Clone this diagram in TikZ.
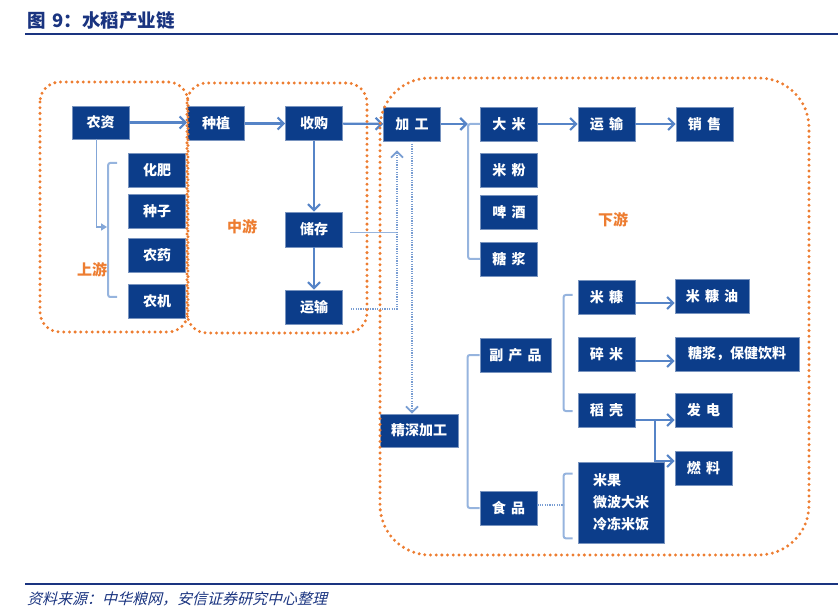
\documentclass[tikz,border=0pt]{standalone}
\usepackage{fontspec}
\newfontfamily\cjk{Noto Sans CJK SC}[WordSpace=1.6]
\newfontfamily\cjkit{Noto Sans CJK SC}[FakeSlant=0.25]
\usepackage{xcolor}
\usetikzlibrary{arrows.meta}
\definecolor{boxblue}{RGB}{12,61,138}
\definecolor{lineblue}{RGB}{86,132,199}
\definecolor{brkblue}{RGB}{150,180,222}
\definecolor{dotorange}{RGB}{237,125,49}
\definecolor{titleblue}{RGB}{26,52,128}

\begin{document}
\begin{tikzpicture}[x=1pt, y=-1pt,
  box/.style={fill=boxblue, draw=boxblue!55!white, line width=0.6pt, text=white,
    font=\cjk\bfseries\fontsize{14}{16}\selectfont,
    minimum width=57pt, minimum height=34pt, inner sep=0pt},
  region/.style={draw=dotorange, line width=3.3pt, line cap=round,
    dash pattern=on 0pt off 5.7pt, rounded corners=#1},
  region/.default=20pt,
  lbl/.style={text=dotorange, font=\cjk\bfseries\fontsize{15}{17}\selectfont},
  arr/.style={draw=lineblue, line width=2.2pt, -{Straight Barb[length=6pt,width=12pt]}},
  arrsmall/.style={draw=brkblue!70!lineblue, line width=1.8pt, -{Triangle[length=6pt,width=7pt]}},
  brk/.style={draw=brkblue, line width=2pt, rounded corners=2pt},
  thinl/.style={draw=brkblue, line width=0.9pt},
  dotl/.style={draw=lineblue!80!white, line width=1.5pt, dash pattern=on 1.2pt off 1.2pt},
  dotarr/.style={dotl, -{Straight Barb[length=6pt,width=12pt,line width=1.8pt]}}]
  \useasboundingbox (0,0) rectangle (838,612);

  % title and source
  \node[anchor=west, inner sep=0pt, text=titleblue, font=\cjk\bfseries\fontsize{18.5}{20}\selectfont] (title) at (27,21) {图 9：水稻产业链};
  \draw[titleblue, line width=2pt] (25,34.5) -- (838,34.5);
  \draw[titleblue, line width=1.2pt] (25,584) -- (838,584);
  \node[anchor=west, inner sep=0pt, text=titleblue, font=\cjkit\fontsize{15}{17}\selectfont] (src) at (27,598.5) {资料来源：中华粮网，安信证券研究中心整理};

  % upstream
  \node[box, minimum height=33pt] (nz) at (100.5,122.5) {农资};
  \foreach \t/\y [count=\i] in {化肥/170, 种子/211, 农药/255, 农机/301}
    \node[box] (s\i) at (157,\y) {\t};

  % midstream
  \node[box] (zz) at (216,123.5) {种植};
  \node[box] (sg) at (314,123.5) {收购};
  \node[box, minimum height=35pt] (cc) at (314,229.5) {储存};
  \node[box] (ys1) at (314,307) {运输};

  % downstream
  \node[box] (jg) at (412,124) {加 工};
  \node[box] (dm) at (509,124) {大 米};
  \node[box] (ys2) at (606.5,124) {运 输};
  \node[box] (xs) at (704.5,124) {销 售};
  \foreach \t/\y/\n in {米 粉/170/mf, 啤 酒/212/pj, 糖 浆/259/tj}
    \node[box] (\n) at (509,\y) {\t};
  \node[box, minimum width=78pt, minimum height=33pt] (sj) at (419,430.5) {精深加工};
  \node[box, minimum width=71pt] (fc) at (515.5,355) {副 产 品};
  \node[box] (sp) at (508.5,508) {食 品};
  \node[box] (mk) at (606.5,297) {米 糠};
  \node[box] (sm) at (606.5,354) {碎 米};
  \node[box] (dk) at (606.5,410) {稻 壳};
  \node[box, minimum width=74pt] (mky) at (712,296) {米 糠 油};
  \node[box, minimum width=124pt] (bj) at (737,354) {糖浆，保健饮料};
  \node[box] (fd) at (703.5,410) {发 电};
  \node[box] (rl) at (703.5,468) {燃 料};
  \node[box, minimum width=86pt, minimum height=81pt, align=left,
    font=\cjk\bfseries\fontsize{14}{22}\selectfont] (mg) at (621,502.5) {米果\\微波大米\\冷冻米饭};

  % main chain
  \draw[arr] (nz.east) -- (nz.east -| zz.west);
  \draw[arr] (zz) -- (sg);
  \draw[arr] (sg) -- (jg);
  \draw[arr] (dm) -- (ys2);
  \draw[arr] (ys2) -- (xs);
  \draw[arr] (sg) -- (cc);
  \draw[arr] (cc) -- (ys1);
  \draw[arr] (jg.east) -- ++(27,0);
  \draw[brk] (dm.west) -- ++(-12,0) |- (tj.west);

  % inputs bracket
  \coordinate (lb) at (107,227);
  \draw[brk] ([shift={(-11,-7)}]s1.west) -- ++(-9,0) |- ([shift={(-11,-4)}]s4.west);
  \draw[arrsmall] ([xshift=-4pt]nz.south) |- (lb);

  % storage and transport back to processing
  \coordinate (up) at ([shift={(-15,9)}]jg.south);
  \coordinate (c1) at ([shift={(7,3)}]cc.east);
  \coordinate (y1) at ([shift={(8,2)}]ys1.east);
  \draw[thinl] (c1) -- (c1 -| up);
  \draw[dotarr] (y1) -| (up);
  \draw[dotarr] (jg.south) -- (jg.south |- sj.north);

  % by-products and food
  \draw[brk] (fc.west) -- ++(-12,0) |- (sp.west);
  \draw[brk] ([shift={(-5,-2)}]mk.west) -- ++(-9,0) |- ([shift={(-5,1)}]dk.west);
  \coordinate (m1) at ([shift={(0,6)}]mk.east);
  \coordinate (m2) at ([shift={(0,7)}]sm.east);
  \coordinate (m3) at ([shift={(0,10)}]dk.east);
  \coordinate (m4) at ([shift={(20,10)}]dk.east);
  \draw[arr] (m1) -- (m1 -| mky.west);
  \draw[arr] (m2) -- (m2 -| bj.west);
  \draw[arr] (m3) -- (m3 -| fd.west);
  \draw[arr] (m4) |- ([shift={(0,-7)}]rl.west);
  \draw[brk] ([shift={(-5,12)}]mg.north west) -- ++(-9,0) |- ([shift={(-5,-5)}]mg.south west);
  \coordinate (mb) at ([shift={(-14,0)}]mg.west);
  \coordinate (s5) at ([shift={(0,-3)}]sp.east);
  \draw[dotl] (s5) -- (s5 -| mb);

  % stages
  \draw[region] (40,82) rectangle (188,332);
  \draw[region] (187,83) rectangle (367,333);
  \draw[region=50pt] (380,78) rectangle (809,555);
  \node[lbl] (upl) at (92,270) {上游};
  \node[lbl] (midl) at (242,227) {中游};
  \node[lbl] (downl) at (613,220) {下游};
\end{tikzpicture}
\end{document}
